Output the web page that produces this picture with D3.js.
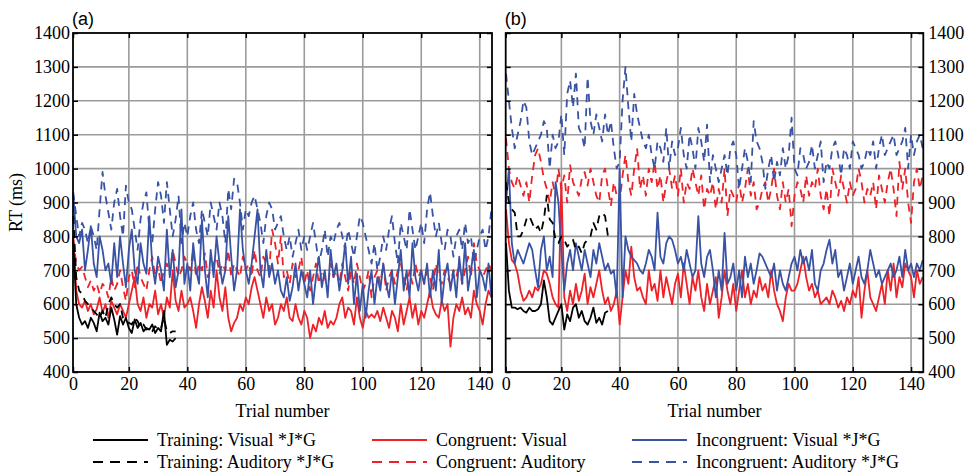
<!DOCTYPE html>
<html lang="en">
<head>
<meta charset="utf-8">
<title>RT by trial number</title>
<script src="https://cdn.jsdelivr.net/npm/d3@7"></script>
<style>
body { margin: 0; background: #fff; }
#chart text { font-family: "Liberation Serif", "Times New Roman", Times, serif; font-size: 18px; fill: #000; }
#chart .panel-label { font-family: "Liberation Sans", Arial, sans-serif; font-size: 18px; }
.grid line { stroke: #9b9b9b; stroke-width: 1.6; }
.axis path { display: none; }
.axis line { stroke: #000; stroke-width: 1.5; }
.frame { fill: none; stroke: #000; stroke-width: 1.8; }
.series { fill: none; stroke-width: 1.8; stroke-linejoin: round; }
</style>
</head>
<body>
<svg id="chart" width="972" height="473"></svg>
<script>
// ---- panel (a) ----
var trainVisA = [780,600,560,540,550,530,560,545,520,575,550,560,540,590,555,510,565,540,560,530,515,555,530,545,520,530,525,540,515,530,520,580,480,495,490,500];
var trainAudA = [860,680,640,630,610,600,590,580,570,560,580,560,600,620,600,590,600,560,550,545,540,560,550,530,540,525,530,520,535,525,530,560,520,515,520,520];
var congVisA = [800,640,600,590,610,580,600,570,585,620, 575,600,560,610,590,570,600,580,560,600,
  640,680,600,580,620,560,600,590,640,570, 600,560,620,590,700,610,580,640,590,600,
  620,580,530,600,650,610,560,640,590,700, 620,580,650,560,520,545,560,600,580,620,
  600,650,680,640,600,560,620,580,600,540, 560,600,580,620,560,550,600,560,540,580,
  560,500,540,520,560,540,580,530,550,540, 560,600,620,560,590,580,540,620,560,530,
  580,560,570,560,580,550,590,560,530,580, 560,520,600,540,580,620,560,600,540,580,
  560,600,640,590,570,560,610,580,600,475, 560,600,580,620,570,590,560,640,600,580,
  540,600,640,620];
var congAudA = [790,720,700,710,680,650,670,640,660,630, 660,650,620,680,640,660,700,650,610,680,
  700,650,720,680,660,640,700,740,680,710, 660,700,720,690,760,720,680,700,740,720,
  700,760,680,720,700,750,680,700,720,740, 690,720,700,760,680,720,700,680,740,700,
  720,680,760,700,680,740,720,700,820,780, 720,800,680,700,660,720,680,700,740,660,
  700,640,680,720,660,700,680,640,720,680, 700,660,720,680,640,700,660,720,680,640,
  660,700,620,680,700,660,720,640,680,700, 660,700,720,680,640,700,660,720,680,700,
  660,700,680,640,720,680,660,700,680,660, 700,680,720,660,700,740,680,780,720,700,
  680,700,720,700];
var incVisA = [920,800,780,820,700,760,830,720,680,800, 760,700,720,660,780,680,800,720,650,760,
  820,700,660,780,720,690,860,720,660,740, 700,640,820,680,760,650,700,880,660,720,
  640,780,700,660,850,700,620,760,680,800, 720,660,700,860,740,640,700,880,760,700,
  660,720,800,880,700,650,760,680,720,660, 700,640,620,680,610,650,720,640,700,660,
  620,700,600,680,740,650,700,620,760,680, 720,640,700,780,660,740,600,690,580,660,
  560,640,700,600,680,640,720,660,620,700, 600,680,760,640,700,620,780,680,640,700,
  660,720,620,700,640,760,600,680,720,640, 700,620,740,660,780,640,700,760,620,700,
  680,640,720,620];
var incAudA = [930,860,800,840,820,780,830,800,760,880, 990,920,870,820,900,940,860,800,950,900,
  880,820,760,850,900,930,820,780,880,960, 920,840,960,880,800,850,920,780,840,800,
  860,900,820,780,880,840,800,900,860,820, 900,860,780,940,880,970,960,900,820,880,
  860,900,920,880,840,780,860,900,880,820, 840,860,800,760,800,740,780,820,760,800,
  760,800,840,780,720,760,820,740,800,780, 820,840,800,760,820,780,740,800,860,840,
  800,760,720,780,700,740,800,760,820,860, 780,720,840,800,760,880,820,760,800,840,
  780,880,930,860,800,840,780,760,820,800, 740,800,820,760,840,780,800,720,760,800,
  820,760,800,880];

// ---- panel (b) ----
var trainVisB = [780,640,590,590,585,590,580,575,590,580,580,585,600,670,620,550,540,560,580,600,525,570,550,590,600,560,580,550,540,560,590,545,560,540,575,580];
var trainAudB = [960,900,880,870,800,800,820,850,860,840,820,830,810,850,920,850,840,790,780,800,790,770,780,790,760,770,750,780,790,800,840,820,860,870,860,800];
var congVisB = [880,780,730,720,690,640,610,620,640,620, 650,640,660,700,690,660,620,600,590,960,
  620,580,640,600,660,610,640,690,600,650, 620,660,700,640,600,620,580,600,640,540,
  620,700,660,770,680,640,650,620,600,700, 640,660,610,700,620,680,640,600,660,690,
  620,720,660,600,680,640,700,620,580,660, 600,640,680,560,620,700,640,600,660,580,
  640,700,620,660,600,640,620,680,640,660, 620,700,640,600,580,550,620,660,640,640,
  660,700,740,680,640,660,620,640,600,610, 620,600,640,620,590,610,580,620,600,640,
  620,680,560,640,700,620,600,580,620,660, 600,700,640,720,620,680,650,720,700,680,
  620,700,660,680];
var congAudB = [1090,1000,960,940,980,950,920,960,900,980, 1040,1060,1020,970,940,900,960,920,1000,940,
  980,900,1010,960,940,920,970,990,950,1000, 960,920,900,980,1000,940,890,960,920,900,
  980,1040,960,920,1000,1060,940,980,920,1000, 960,1020,940,980,900,960,1000,940,980,920,
  1000,900,960,940,1000,960,920,980,880,940, 920,960,880,940,900,1000,860,940,920,900,
  960,900,940,1000,920,960,880,900,940,960, 900,940,1000,920,880,960,900,940,830,920,
  960,940,900,980,920,960,940,1000,920,880, 940,860,1000,960,920,980,940,900,960,920,
  940,1000,960,900,940,920,960,880,980,940, 900,960,1000,940,860,1020,940,1000,900,840,
  960,1000,940,980];
var incVisB = [900,1000,780,720,760,740,720,750,780,760, 700,650,760,800,700,740,680,960,900,760,
  640,720,760,700,780,740,700,760,720,680, 760,720,780,740,700,720,690,700,620,1000,
  620,800,760,740,730,720,700,690,720,760, 740,700,870,740,720,780,800,790,760,720,
  740,700,760,720,680,700,860,720,680,740, 760,700,620,700,640,810,660,680,720,640,
  700,620,740,680,720,660,700,750,740,720, 700,680,720,640,700,660,640,680,720,740,
  700,760,720,740,700,760,660,640,700,720, 760,790,720,760,680,700,640,680,720,660,
  700,740,680,660,700,760,720,680,700,660, 680,700,720,680,700,740,680,760,700,720,
  680,720,700,730];
var incAudB = [1280,1200,1120,1060,1100,1140,1200,1180,1080,1040, 1060,1080,1100,1140,1120,1000,1100,1060,1080,1160,
  1040,1220,1260,1180,1280,1120,1100,1060,1270,1140, 1100,1160,1120,1080,1160,1100,1140,1060,1000,1020,
  1200,1300,1180,1080,1220,1160,1120,1080,1060,1100, 1040,1000,1080,1060,1020,1120,1000,1080,1040,1060,
  1120,1040,1000,1100,1060,1000,1120,1080,1020,1130, 960,1040,1000,960,1000,1040,980,1060,1080,1040,
  940,1000,1060,1020,960,1140,1080,1060,1020,940, 1000,1040,960,1020,980,1060,1000,1040,1150,1000,
  980,1060,1040,1000,1020,1070,1000,1040,1080,960, 1020,1000,1060,1080,1040,980,1060,1040,1000,1080,
  1060,1040,1000,1020,1060,1040,1080,1000,1060,1100, 1040,1060,1080,1100,1040,1060,1080,1120,1000,1100,
  1040,1080,1100,1060];

var xTickValues = [0.9, 20, 40, 60, 80, 100, 120, 140];
var yTickValues = [400, 500, 600, 700, 800, 900, 1000, 1100, 1200, 1300, 1400];
var legendLabels = ['Training: Visual *J*G', 'Training: Auditory *J*G',
                    'Congruent: Visual', 'Congruent: Auditory',
                    'Incongruent: Visual *J*G', 'Incongruent: Auditory *J*G'];

var RED = '#ee2127', BLUE = '#3953a4', BLACK = '#000';
var DASH = '8,6';

var svg = d3.select('#chart');
var plotTop = 33, plotBottom = 372;
var yScale = d3.scaleLinear().domain([400, 1400]).range([plotBottom, plotTop]);
var yFmt = d3.format('d');

function drawPanel(left, right, label, data, labelSide) {
  var xScale = d3.scaleLinear().domain([0.9, 144.2]).range([left, right]);
  var g = svg.append('g');

  var grid = g.append('g').attr('class', 'grid');
  grid.selectAll('.gx').data(xTickValues.slice(1)).enter().append('line')
    .attr('x1', function(d) { return xScale(d); }).attr('x2', function(d) { return xScale(d); })
    .attr('y1', plotTop).attr('y2', plotBottom);
  grid.selectAll('.gy').data(yTickValues.slice(1, -1)).enter().append('line')
    .attr('y1', function(d) { return yScale(d); }).attr('y2', function(d) { return yScale(d); })
    .attr('x1', left).attr('x2', right);

  var line = d3.line()
    .x(function(d, i) { return xScale(i + 1); })
    .y(function(d) { return yScale(d); });

  data.forEach(function(s) {
    g.append('path').datum(s.values)
      .attr('class', 'series')
      .attr('stroke', s.color)
      .attr('stroke-dasharray', s.dash ? DASH : null)
      .attr('d', line);
  });

  g.append('g').attr('class', 'axis')
    .attr('transform', 'translate(0,' + plotBottom + ')')
    .call(d3.axisBottom(xScale).tickValues(xTickValues)
      .tickFormat(function(d) { return d < 1 ? '0' : d; })
      .tickSizeInner(-5).tickSizeOuter(0).tickPadding(5));
  g.append('g').attr('class', 'axis')
    .attr('transform', 'translate(0,' + plotTop + ')')
    .call(d3.axisTop(xScale).tickValues(xTickValues).tickFormat('')
      .tickSizeInner(-5).tickSizeOuter(0));
  g.append('g').attr('class', 'axis')
    .attr('transform', 'translate(' + left + ',0)')
    .call(d3.axisLeft(yScale).tickValues(yTickValues)
      .tickFormat(labelSide === 'left' ? yFmt : '')
      .tickSizeInner(-5).tickSizeOuter(0).tickPadding(3));
  g.append('g').attr('class', 'axis')
    .attr('transform', 'translate(' + right + ',0)')
    .call(d3.axisRight(yScale).tickValues(yTickValues)
      .tickFormat(labelSide === 'right' ? yFmt : '')
      .tickSizeInner(-5).tickSizeOuter(0).tickPadding(5));

  g.selectAll('.axis').attr('font-family', null).attr('font-size', null);
  g.selectAll('.axis text').attr('fill', '#000');

  g.append('rect').attr('class', 'frame')
    .attr('x', left).attr('y', plotTop)
    .attr('width', right - left).attr('height', plotBottom - plotTop);

  g.append('text').attr('class', 'panel-label')
    .attr('x', left - 1).attr('y', 25).text(label);

  g.append('text')
    .attr('x', (left + right) / 2).attr('y', 417)
    .attr('text-anchor', 'middle').text('Trial number');
}

drawPanel(73, 492, '(a)', [
  {values: congAudA, color: RED, dash: true},
  {values: incAudA, color: BLUE, dash: true},
  {values: congVisA, color: RED},
  {values: incVisA, color: BLUE},
  {values: trainAudA, color: BLACK, dash: true},
  {values: trainVisA, color: BLACK}
], 'left');

drawPanel(505.7, 923.3, '(b)', [
  {values: congAudB, color: RED, dash: true},
  {values: incAudB, color: BLUE, dash: true},
  {values: congVisB, color: RED},
  {values: incVisB, color: BLUE},
  {values: trainAudB, color: BLACK, dash: true},
  {values: trainVisB, color: BLACK}
], 'right');

svg.append('text')
  .attr('transform', 'translate(22,' + (plotTop + plotBottom) / 2 + ') rotate(-90)')
  .attr('text-anchor', 'middle').text('RT (ms)');

// legend
var legendColors = [BLACK, BLACK, RED, RED, BLUE, BLUE];
var colX = [93, 372, 632], rowY = [440, 462];
var legend = svg.append('g');
legendLabels.forEach(function(lab, i) {
  var cx = colX[Math.floor(i / 2)], cy = rowY[i % 2];
  legend.append('line')
    .attr('x1', cx).attr('x2', cx + 55).attr('y1', cy).attr('y2', cy)
    .attr('stroke', legendColors[i]).attr('stroke-width', 1.8)
    .attr('stroke-dasharray', i % 2 ? '10,7' : null);
  legend.append('text').attr('x', cx + 64).attr('y', cy + 6).text(lab);
});
</script>
</body>
</html>
